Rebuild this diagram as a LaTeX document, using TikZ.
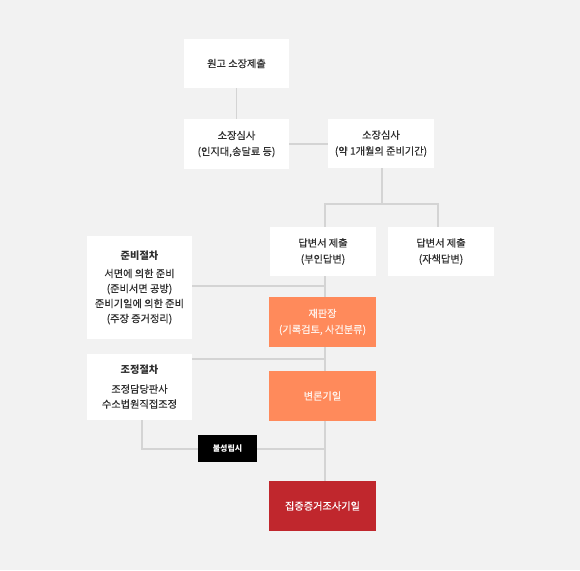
\documentclass[tikz,border=0pt]{standalone}
\usepackage{fontspec}
\setmainfont{Noto Sans CJK KR}[UprightFeatures={FakeBold=0.4}]
\usetikzlibrary{calc}
\definecolor{bgc}{HTML}{F2F2F2}
\definecolor{linec}{HTML}{D4D4D4}
\definecolor{txt}{HTML}{2E2E2E}
\definecolor{orng}{HTML}{FF8A5B}
\definecolor{dred}{HTML}{C0272D}
\definecolor{ltxt}{HTML}{FFF0E8}
\pgfdeclarelayer{bg}
\pgfdeclarelayer{lines}
\pgfsetlayers{bg,lines,main}
\begin{document}
\begin{tikzpicture}[x=1pt,y=-1pt,
  box/.style={rectangle,fill=white,minimum width=106pt,minimum height=50pt,inner sep=0pt,align=center,text=txt,font=\fontsize{10.2}{16}\selectfont},
  obox/.style={box,fill=orng,text=ltxt},
  rbox/.style={box,fill=dred,text=white},
  kbox/.style={rectangle,fill=black,text=white,minimum width=59pt,minimum height=27pt,inner sep=0pt,font=\bfseries\fontsize{8}{10}\selectfont},
  conn/.style={draw=linec,line width=1.4pt}]
\begin{pgfonlayer}{bg}
\fill[bgc] (0,0) rectangle (580,570);
\end{pgfonlayer}
\useasboundingbox (0,0) rectangle (580,570);

\node[box,minimum width=105pt,minimum height=49pt] (A) at (236.5,63.5) {원고 소장제출};
\node[box,minimum width=105pt] (B) at (236.5,144) {소장심사\\(인지대,송달료 등)};
\node[box,minimum height=49pt] (C) at (381,143.5) {소장심사\\(약 1개월의 준비기간)};
\node[box,minimum height=49pt] (D) at (323,251.5) {답변서 제출\\(부인답변)};
\node[box,minimum height=49pt] (E) at (441,251.5) {답변서 제출\\(자책답변)};
\node[box,minimum width=105pt,minimum height=103pt,font=\fontsize{10.2}{15}\selectfont] (F) at (139.5,287.5) {\textbf{준비절차}\\[3pt]서면에 의한 준비\\(준비서면 공방)\\준비기일에 의한 준비\\(주장 증거정리)};
\node[obox,minimum width=107pt] (G) at (322.5,322) {재판장\\(기록검토, 사건분류)};
\node[box,minimum width=105pt,minimum height=66pt,font=\fontsize{10.2}{15}\selectfont] (H) at (139.5,387) {\textbf{조정절차}\\[4pt]조정담당판사\\수소법원직접조정};
\node[obox,minimum width=107pt] (I) at (322.5,396) {변론기일};
\node[rbox,minimum width=107pt] (J) at (322.5,506) {집중증거조사기일};
\node[kbox] (K) at (227.5,448.5) {불성립시};

\coordinate (vx) at (325,0);
\coordinate (vr) at (438,0);
\coordinate (sp) at (382,204);
\coordinate (hb) at (142,449);
\begin{pgfonlayer}{lines}
\draw[conn] (A.south) -- (B.north);
\draw[conn] (B.east) -- (C.west |- B.east);
\draw[conn] (sp |- C.south) -- (sp);
\draw[conn] (vx |- D.north) -- (vx |- sp) -- (vr |- sp) -- (vr |- E.north);
\draw[conn] (vx |- D.south) -- (vx |- J.north);
\draw[conn] ($(F.east)+(0,-1.5)$) -- (vx |- 0,286);
\draw[conn] (H.east |- 0,359) -- (vx |- 0,359);
\draw[conn] (hb |- H.south) -- (hb) -- (K.west |- hb);
\draw[conn] (K.east |- hb) -- (vx |- hb);
\end{pgfonlayer}
\end{tikzpicture}
\end{document}
